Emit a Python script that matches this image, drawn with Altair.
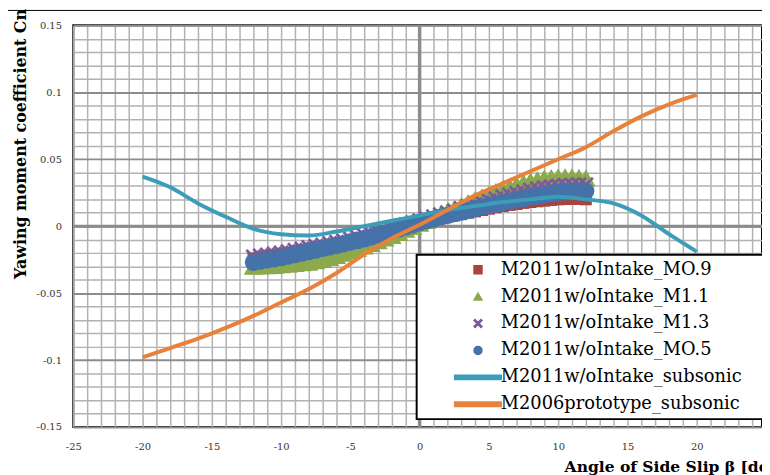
import altair as alt
import pandas as pd

# ---------------- data ----------------
series_names = [
    "M2011w/oIntake_MO.9",
    "M2011w/oIntake_M1.1",
    "M2011w/oIntake_M1.3",
    "M2011w/oIntake_MO.5",
    "M2011w/oIntake_subsonic",
    "M2006prototype_subsonic",
]
series_colors = ["#A8433F", "#8CA94C", "#7A5C9C", "#4572A9", "#3C9DB9", "#E8823A"]

beta_scan = [-12.0, -11.5, -11.0, -10.5, -10.0, -9.5, -9.0, -8.5, -8.0, -7.5, -7.0, -6.5,
             -6.0, -5.5, -5.0, -4.5, -4.0, -3.5, -3.0, -2.5, -2.0, -1.5, -1.0, -0.5,
             0.0, 0.5, 1.0, 1.5, 2.0, 2.5, 3.0, 3.5, 4.0, 4.5, 5.0, 5.5,
             6.0, 6.5, 7.0, 7.5, 8.0, 8.5, 9.0, 9.5, 10.0, 10.5, 11.0, 11.5, 12.0]

cn_m09 = [-0.0240, -0.0232, -0.0225, -0.0218, -0.0210, -0.0200, -0.0190, -0.0180, -0.0170, -0.0160,
          -0.0150, -0.0140, -0.0130, -0.0118, -0.0105, -0.0093, -0.0080, -0.0068, -0.0055, -0.0043,
          -0.0030, -0.0018, -0.0005, 0.0008, 0.0020, 0.0033, 0.0045, 0.0058, 0.0070, 0.0080,
          0.0090, 0.0100, 0.0110, 0.0120, 0.0130, 0.0140, 0.0150, 0.0158, 0.0165, 0.0173,
          0.0180, 0.0185, 0.0190, 0.0195, 0.0200, 0.0202, 0.0203, 0.0203, 0.0200]

cn_m11 = [-0.0300, -0.0299, -0.0297, -0.0294, -0.0290, -0.0285, -0.0280, -0.0275, -0.0270, -0.0260,
          -0.0250, -0.0235, -0.0220, -0.0203, -0.0186, -0.0168, -0.0150, -0.0130, -0.0110, -0.0090,
          -0.0070, -0.0048, -0.0025, -0.0003, 0.0020, 0.0042, 0.0065, 0.0088, 0.0110, 0.0133,
          0.0155, 0.0178, 0.0200, 0.0220, 0.0240, 0.0260, 0.0280, 0.0296, 0.0312, 0.0327,
          0.0340, 0.0350, 0.0360, 0.0365, 0.0370, 0.0370, 0.0370, 0.0367, 0.0360]

cn_m13 = [-0.0230, -0.0222, -0.0215, -0.0208, -0.0200, -0.0190, -0.0180, -0.0170, -0.0160, -0.0150,
          -0.0140, -0.0130, -0.0120, -0.0108, -0.0095, -0.0083, -0.0070, -0.0058, -0.0045, -0.0033,
          -0.0020, -0.0005, 0.0010, 0.0025, 0.0040, 0.0055, 0.0070, 0.0085, 0.0100, 0.0115,
          0.0130, 0.0145, 0.0160, 0.0175, 0.0190, 0.0205, 0.0220, 0.0233, 0.0246, 0.0258,
          0.0270, 0.0280, 0.0288, 0.0295, 0.0300, 0.0305, 0.0308, 0.0310, 0.0310]

cn_m05 = [-0.0270, -0.0262, -0.0253, -0.0244, -0.0235, -0.0224, -0.0213, -0.0201, -0.0190, -0.0179,
          -0.0167, -0.0156, -0.0145, -0.0133, -0.0120, -0.0108, -0.0095, -0.0080, -0.0065, -0.0050,
          -0.0035, -0.0020, -0.0005, 0.0010, 0.0025, 0.0039, 0.0053, 0.0067, 0.0080, 0.0093,
          0.0105, 0.0118, 0.0130, 0.0142, 0.0153, 0.0164, 0.0175, 0.0185, 0.0195, 0.0205,
          0.0215, 0.0224, 0.0233, 0.0242, 0.0250, 0.0255, 0.0258, 0.0260, 0.0262]

beta_line = [-20, -18, -16, -14, -12, -10, -8, -6, -4, -2, 0, 2, 4, 6, 8, 10, 12, 14, 16, 18, 20]
cn_2011_subsonic = [0.037, 0.029, 0.017, 0.007, -0.002, -0.006, -0.007, -0.004, 0.000, 0.004, 0.008,
                    0.012, 0.015, 0.018, 0.020, 0.022, 0.020, 0.017, 0.008, -0.006, -0.019]
cn_2006_subsonic = [-0.098, -0.091, -0.084, -0.076, -0.067, -0.057, -0.047, -0.035, -0.021, -0.009, 0.001,
                    0.012, 0.023, 0.032, 0.041, 0.050, 0.059, 0.071, 0.082, 0.091, 0.098]

x_major_ticks = [-25, -20, -15, -10, -5, 0, 5, 10, 15, 20, 25]
y_major_ticks = [-0.15, -0.1, -0.05, 0, 0.05, 0.1, 0.15]

# ---------------- tables ----------------
scatter_rows = []
for name, vals in zip(series_names[:4], [cn_m09, cn_m11, cn_m13, cn_m05]):
    for b, c in zip(beta_scan, vals):
        scatter_rows.append({"series": name, "beta": b, "cn": c})
scatter_df = pd.DataFrame(scatter_rows)

line_rows = []
for name, vals in zip(series_names[4:], [cn_2011_subsonic, cn_2006_subsonic]):
    for b, c in zip(beta_line, vals):
        line_rows.append({"series": name, "beta": b, "cn": c})
line_df = pd.DataFrame(line_rows)

x_grid = list(range(-25, 25))
y_grid = [round(-0.15 + 0.01 * i, 2) for i in range(31)]

# ---------------- encodings ----------------
x_scale = alt.Scale(domain=[-25, 24.714], nice=False, zero=False)
y_scale = alt.Scale(domain=[-0.15, 0.15], nice=False, zero=False)

major_test = "abs(round(datum.value*100)) % 5 == 0"

x_axis = alt.Axis(
    values=x_grid, grid=True, gridColor="#b2b2b2", gridWidth=1.5,
    domain=False, ticks=False, labelOverlap=False, labelFlush=False, labelBound=False,
    labelExpr="datum.value % 5 == 0 ? datum.value + '' : ''",
    labelFont="DejaVu Serif", labelFontSize=10, labelColor="#333333", labelPadding=15,
    title="Angle of Side Slip β [deg]", titleFont="DejaVu Serif", titleFontSize=15.7,
    titleFontWeight="bold", titleColor="black", titleX=496, titleY=40,
    titleAlign="left", titleBaseline="middle",
)
y_axis = alt.Axis(
    values=y_grid, grid=True,
    gridColor={"condition": {"test": major_test, "value": "#8c8c8c"}, "value": "#b2b2b2"},
    gridWidth={"condition": {"test": major_test, "value": 2}, "value": 1.5},
    domain=False, ticks=False, labelOverlap=False, labelFlush=False, labelBound=False,
    labelExpr=major_test + " ? datum.value + '' : ''",
    labelFont="DejaVu Serif", labelFontSize=10, labelColor="#333333", labelPadding=12,
    title="Yawing moment coefficient  Cn", titleFont="DejaVu Serif", titleFontSize=16,
    titleFontWeight="bold", titleColor="black", titleAngle=270, titleX=-53, titleY=119.5,
    titleAlign="center", titleBaseline="middle",
)

x_path = "M-1,-0.75L-0.75,-1L0,-0.25L0.75,-1L1,-0.75L0.25,0L1,0.75L0.75,1L0,0.25L-0.75,1L-1,0.75L-0.25,0Z"
line_path = "M-5.9,-0.55H5.9V0.55H-5.9Z"
shapes = ["square", "triangle-up", x_path, "circle", line_path, line_path]
marker_sizes = [144, 380, 260, 300]

# a blank title on the right side widens the framed legend past the page edge
legend = alt.Legend(
    title="\u00a0", titleOrient="right", titleFontSize=10, titlePadding=50,
    orient="none", legendX=347, legendY=232,
    strokeColor="black", fillColor="white", padding=6,
    symbolSize=64, symbolOffset=47, labelOffset=14, rowPadding=9.2,
    labelFont="DejaVu Serif", labelFontSize=18, labelColor="black", labelLimit=600,
)

color_scale = alt.Scale(domain=series_names, range=series_colors)
shape_scale = alt.Scale(domain=series_names, range=shapes)

zero_h = alt.Chart(pd.DataFrame({"v": [0]})).mark_rule(color="#8c8c8c", strokeWidth=3).encode(
    y=alt.Y("v:Q", scale=y_scale, axis=y_axis))
zero_v = alt.Chart(pd.DataFrame({"v": [0]})).mark_rule(color="#8c8c8c", strokeWidth=3.5).encode(
    x=alt.X("v:Q", scale=x_scale, axis=x_axis))

top_line = alt.Chart(pd.DataFrame({"v": [0]})).mark_rule(color="black", strokeWidth=1).encode(
    x=alt.value(-66), x2=alt.value(696), y=alt.value(-15))


def scatter_layer(name, size):
    return alt.Chart(scatter_df).transform_filter(
        alt.FieldEqualPredicate(field="series", equal=name)
    ).mark_point(filled=True, size=size, opacity=1, strokeWidth=0).encode(
        x=alt.X("beta:Q", scale=x_scale, axis=x_axis),
        y=alt.Y("cn:Q", scale=y_scale, axis=y_axis),
        color=alt.Color("series:N", scale=color_scale, legend=legend),
        shape=alt.Shape("series:N", scale=shape_scale, legend=legend),
    )


point_layers = [scatter_layer(n, s) for n, s in zip(series_names[:4], marker_sizes)]

lines = alt.Chart(line_df).mark_line(strokeWidth=4, interpolate="monotone").encode(
    x=alt.X("beta:Q", scale=x_scale, axis=x_axis),
    y=alt.Y("cn:Q", scale=y_scale, axis=y_axis),
    color=alt.Color("series:N", scale=color_scale, legend=legend),
)

chart = alt.layer(zero_h, zero_v, top_line, *point_layers, lines).properties(
    width=696, height=406,
    autosize=alt.AutoSizeParams(type="none"),
    padding={"left": 66, "top": 15, "right": 0, "bottom": 46},
    background="white",
).configure_view(stroke="black", strokeWidth=2).configure_legend(strokeWidth=2)

chart.save("out.html", embed_options={"renderer": "svg", "actions": False})
